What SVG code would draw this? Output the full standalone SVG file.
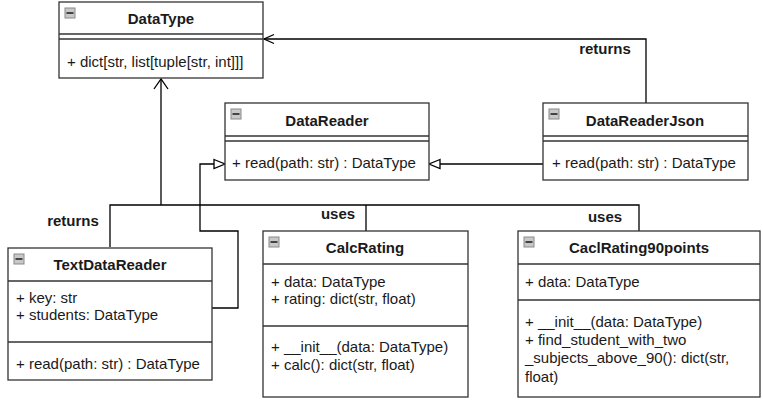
<svg xmlns="http://www.w3.org/2000/svg" width="763" height="400" viewBox="0 0 763 400">
<style>
.box{fill:#fff;stroke:#333;stroke-width:1.3}
.sep{stroke:#333;stroke-width:1.3}
.t{font-family:"Liberation Sans",Arial,sans-serif;font-size:15px;fill:#1a1a1a}
.b{font-weight:bold;text-anchor:middle}
.c{fill:none;stroke:#000;stroke-width:1.3}
.ic{fill:#c8c8c8;stroke:#8a8a8a;stroke-width:1}
.icl{stroke:#444;stroke-width:2}
</style>
<defs>
<g id="icon"><rect class="ic" x="0" y="0" width="10" height="10"/><line class="icl" x1="1.5" y1="5" x2="8.5" y2="5"/></g>
</defs>
<rect width="763" height="400" fill="#fff"/>
<g id="connectors">
<path class="c" d="M110,247 V205 H639 V231"/>
<path class="c" d="M366,205 V231"/>
<path class="c" d="M161,205 V79"/>
<path class="c" d="M154,89 L161,79 L168,89"/>
<path class="c" d="M646,103 V39 H264"/>
<path class="c" d="M274,34.5 L264,39 L274,43.5"/>
<path class="c" d="M212,308 H238 V231 H200 V164 H214"/>
<path class="c" d="M214,159.5 L225,164 L214,168.5 Z"/>
<path class="c" d="M543,164 H440"/>
<path class="c" d="M440,159.5 L429,164 L440,168.5 Z"/>
<text class="t b" x="605" y="54" font-weight="bold">returns</text>
<text class="t b" x="73" y="226">returns</text>
<text class="t b" x="338" y="219">uses</text>
<text class="t b" x="605" y="222">uses</text>
</g>
<g id="DataType">
<rect class="box" x="59" y="2" width="204" height="76"/>
<line class="sep" x1="59" y1="34" x2="263" y2="34"/>
<line class="sep" x1="59" y1="39" x2="263" y2="39"/>
<use href="#icon" x="65" y="8"/>
<text class="t b" x="161" y="24">DataType</text>
<text class="t" x="67" y="67">+ dict[str, list[tuple[str, int]]]</text>
</g>
<g id="DataReader">
<rect class="box" x="225" y="103" width="204" height="77"/>
<line class="sep" x1="225" y1="136" x2="429" y2="136"/>
<line class="sep" x1="225" y1="141" x2="429" y2="141"/>
<use href="#icon" x="231" y="109"/>
<text class="t b" x="327" y="126">DataReader</text>
<text class="t" x="232" y="168">+ read(path: str) : DataType</text>
</g>
<g id="DataReaderJson">
<rect class="box" x="543" y="103" width="205" height="77"/>
<line class="sep" x1="543" y1="136" x2="748" y2="136"/>
<line class="sep" x1="543" y1="141" x2="748" y2="141"/>
<use href="#icon" x="549" y="109"/>
<text class="t b" x="645" y="126">DataReaderJson</text>
<text class="t" x="552" y="168">+ read(path: str) : DataType</text>
</g>
<g id="TextDataReader">
<rect class="box" x="8" y="248" width="204" height="132"/>
<line class="sep" x1="8" y1="281" x2="212" y2="281"/>
<line class="sep" x1="8" y1="342" x2="212" y2="342"/>
<use href="#icon" x="14" y="254"/>
<text class="t b" x="110" y="270">TextDataReader</text>
<text class="t" x="16" y="303">+ key: str</text>
<text class="t" x="16" y="320">+ students: DataType</text>
<text class="t" x="16" y="369">+ read(path: str) : DataType</text>
</g>
<g id="CalcRating">
<rect class="box" x="263" y="231" width="205" height="166"/>
<line class="sep" x1="263" y1="264" x2="468" y2="264"/>
<line class="sep" x1="263" y1="326" x2="468" y2="326"/>
<use href="#icon" x="269" y="237"/>
<text class="t b" x="365" y="253">CalcRating</text>
<text class="t" x="271" y="287">+ data: DataType</text>
<text class="t" x="271" y="304">+ rating: dict(str, float)</text>
<text class="t" x="271" y="352">+ __init__(data: DataType)</text>
<text class="t" x="271" y="370">+ calc(): dict(str, float)</text>
</g>
<g id="CaclRating90points">
<rect class="box" x="518" y="231" width="242" height="166"/>
<line class="sep" x1="518" y1="264" x2="760" y2="264"/>
<line class="sep" x1="518" y1="300" x2="760" y2="300"/>
<use href="#icon" x="524" y="237"/>
<text class="t b" x="639" y="253">CaclRating90points</text>
<text class="t" x="525" y="287">+ data: DataType</text>
<text class="t" x="525" y="327">+ __init__(data: DataType)</text>
<text class="t" x="525" y="345">+ find_student_with_two</text>
<text class="t" x="525" y="363">_subjects_above_90(): dict(str,</text>
<text class="t" x="525" y="382">float)</text>
</g>
</svg>
